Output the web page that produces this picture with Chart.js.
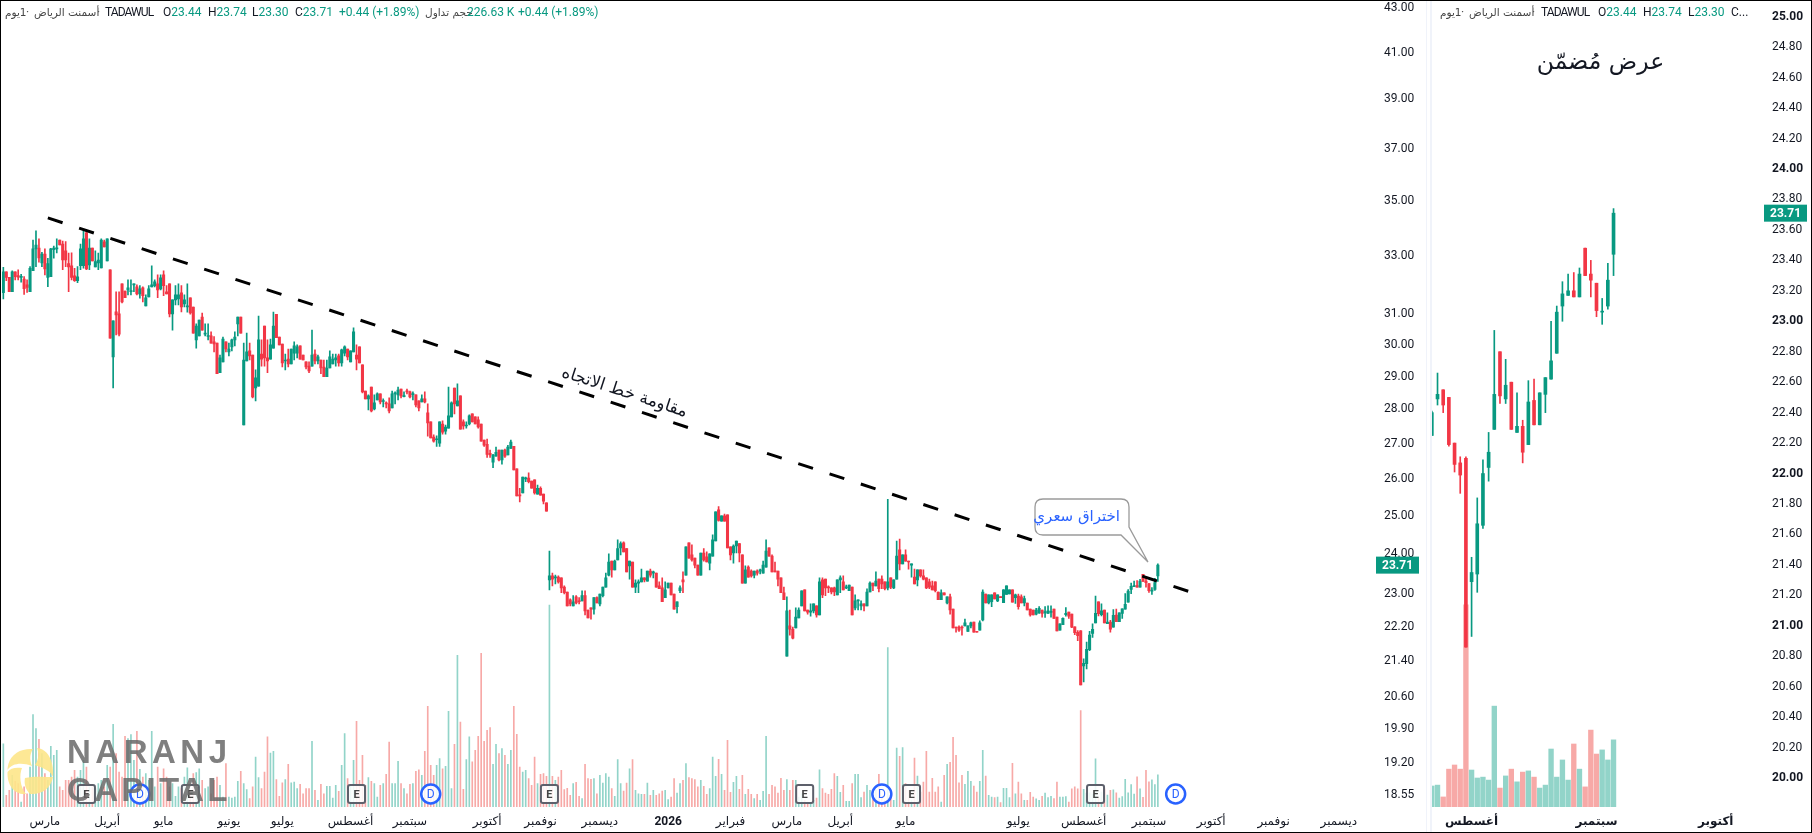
<!DOCTYPE html>
<html>
<head>
<meta charset="utf-8">
<script src="https://cdn.jsdelivr.net/npm/chart.js@4"></script>
<style>
  html, body { margin: 0; padding: 0; background: #fff; }
  body { width: 1812px; height: 833px; overflow: hidden; position: relative; font-family: Roboto, "DejaVu Sans", sans-serif; }
  canvas { position: absolute; top: 0; }
  .t { position: absolute; white-space: nowrap; color: #131722; font-size: 12px; line-height: 16px; top: 4px; }
  .g { color: #089981; }
  .ar { font-family: "DejaVu Sans", sans-serif; font-size: 10.5px; direction: rtl; color: #444; }
  .tk { letter-spacing: -0.9px; }
  #sep { position: absolute; left: 1426px; top: 0; width: 6px; height: 833px; background: #fff; border-left: 1px solid #f0f3fa; border-right: 2px solid #f0f3fa; box-sizing: border-box; }
  #frame { position: absolute; left: 0; top: 0; width: 1812px; height: 833px; box-sizing: border-box; border: 1.5px solid #000; pointer-events: none; }
  .wm { position: absolute; left: 67px; font: bold 33px "Liberation Sans", sans-serif; color: rgba(105,105,105,.85); line-height: 33px; }
</style>
</head>
<body>
<canvas id="mainChart" width="1426" height="833" style="left:0"></canvas>
<canvas id="sideChart" width="383" height="833" style="left:1429px"></canvas>
<div id="sep"></div>

<!-- header row, main pane -->
<span class="t ar" style="left:5px">1يوم</span>
<span class="t" style="left:26px;color:#555">·</span>
<span class="t ar" style="left:34px">أسمنت الرياض</span>
<span class="t" style="left:97px;color:#555">·</span>
<span class="t tk" style="left:105px">TADAWUL</span>
<span class="t" style="left:163px">O<span class="g">23.44</span></span>
<span class="t" style="left:208px">H<span class="g">23.74</span></span>
<span class="t" style="left:252px">L<span class="g">23.30</span></span>
<span class="t" style="left:295px">C<span class="g">23.71</span></span>
<span class="t g" style="left:339px">+0.44 (+1.89%)</span>
<span class="t ar" style="left:425px">حجم تداول</span>
<span class="t g" style="left:467px">226.63 K</span>
<span class="t g" style="left:518px">+0.44 (+1.89%)</span>

<!-- header row, side pane -->
<span class="t ar" style="left:1440px">1يوم</span>
<span class="t" style="left:1461px;color:#555">·</span>
<span class="t ar" style="left:1469px">أسمنت الرياض</span>
<span class="t" style="left:1532px;color:#555">·</span>
<span class="t tk" style="left:1541px">TADAWUL</span>
<span class="t" style="left:1598px">O<span class="g">23.44</span></span>
<span class="t" style="left:1643px">H<span class="g">23.74</span></span>
<span class="t" style="left:1688px">L<span class="g">23.30</span></span>
<span class="t" style="left:1731px">C...</span>

<span style="position:absolute;left:1530px;top:47px;width:141px;text-align:center;font:23.5px 'DejaVu Sans';direction:rtl;color:#131722;white-space:nowrap">عرض مُضمّن</span>
<span style="position:absolute;left:555px;top:381px;width:140px;text-align:center;font:17px 'DejaVu Sans';direction:rtl;color:#131722;white-space:nowrap;transform:rotate(18deg)">مقاومة خط الاتجاه</span>

<!-- callout -->
<svg style="position:absolute;left:0;top:0" width="1300" height="600">
  <path d="M1043 499 H1121 Q1129 499 1129 507 V527 L1148 562 L1121 535 H1043 Q1035 535 1035 527 V507 Q1035 499 1043 499 Z" fill="#fff" fill-opacity=".9" stroke="#9a9a9a" stroke-width="1.3"/>
</svg>
<span style="position:absolute;left:1035px;top:507px;width:85px;text-align:center;font:15px 'DejaVu Sans';direction:rtl;color:#2962ff;white-space:nowrap">اختراق سعري</span>

<!-- watermark -->
<svg style="position:absolute;left:0;top:735px" width="60" height="70" fill="#fde58a" fill-opacity=".9">
  <path d="M7.5 35 C8 20 20 13 33 14 C29 20 30 27 32 31 C22 27 12 28 7.5 35Z"/>
  <path d="M37 13 C48 14 54 26 53 42 C51 36 43 33 35 30 C39 24 39 18 37 13Z"/>
  <path d="M7.5 37 C10 33 16 32 22 33 C19 40 20 52 26 59 C14 60 7 50 7.5 37Z"/>
  <path d="M25 43 C33 41 45 42 53 42 C51 53 42 60 30 59 C25 54 24 48 25 43Z"/>
</svg>
<div class="wm" style="top:735px;letter-spacing:4.5px">NARANJ</div>
<div class="wm" style="top:773px;letter-spacing:3.3px">CAPITAL</div>
<div id="frame"></div>

<script>
const opens = [31.72,32.44,32.25,31.76,32.44,32.31,32.24,32.19,31.99,31.76,32.48,33.24,33.27,32.75,33.06,32.24,32.27,33.21,33.24,33.56,33.41,33.17,32.72,32.65,32.30,32.13,32.65,32.65,33.82,32.68,33.27,32.61,32.75,32.57,33.49,32.82,32.51,29.62,31.08,31.01,32.02,31.78,31.82,31.76,31.99,31.92,31.68,31.89,31.28,31.58,31.92,31.96,32.02,31.85,32.33,31.75,32.02,31.01,31.48,31.51,31.72,31.34,31.24,31.55,31.24,30.16,30.29,30.91,30.35,30.27,30.29,30.10,30.06,29.12,29.46,30.10,29.78,29.94,30.16,30.68,30.91,27.54,29.49,29.81,29.68,28.65,28.71,29.71,30.61,29.59,29.55,29.90,31.00,30.25,30.03,29.49,29.55,29.40,29.74,29.74,29.97,29.68,29.46,29.33,29.33,29.71,29.49,29.52,29.30,29.00,29.27,29.40,29.52,29.65,29.43,29.74,29.87,29.46,29.78,29.68,29.94,29.37,28.56,28.32,28.68,28.02,28.29,28.47,28.24,28.20,28.17,28.05,28.47,28.44,28.62,28.39,28.56,28.53,28.45,28.44,28.26,28.23,28.32,27.90,27.63,27.19,27.11,27.01,27.57,27.36,27.45,27.78,28.65,28.11,28.41,27.63,27.51,27.57,27.87,27.78,27.69,27.57,27.10,26.98,26.72,26.47,26.64,26.81,26.53,26.81,26.67,26.86,26.92,26.28,25.55,25.61,26.00,26.02,25.94,25.97,25.58,25.74,25.58,25.34,23.34,23.44,23.39,23.41,23.39,23.16,23.04,22.85,22.70,22.92,22.82,22.82,22.95,22.60,22.65,22.62,22.90,22.75,22.95,23.16,23.46,23.81,23.59,23.84,24.15,24.28,24.13,23.69,23.79,23.16,23.26,23.29,23.39,23.31,23.56,23.51,23.51,23.19,23.14,22.90,23.14,23.26,22.99,22.68,23.07,23.34,23.46,24.28,23.97,23.89,23.71,23.46,24.02,23.92,23.76,23.94,24.33,25.15,24.85,24.99,25.02,24.18,24.02,24.20,24.26,23.97,23.26,23.66,23.56,23.46,23.56,23.56,23.51,23.66,24.15,23.94,23.56,23.56,23.39,23.02,21.51,22.22,22.14,22.17,22.41,22.70,23.09,22.60,22.55,22.58,22.70,22.48,23.34,23.36,23.16,23.14,23.14,22.97,23.34,23.29,23.14,23.07,23.16,22.65,22.82,22.70,22.75,22.70,23.04,23.26,23.19,23.36,23.36,23.29,23.14,23.39,23.14,23.36,24.10,23.74,23.97,23.81,23.71,23.41,23.34,23.59,23.44,23.39,23.29,23.19,23.29,23.04,22.85,23.02,22.77,22.92,22.62,22.19,22.19,22.19,22.22,22.09,22.22,22.31,22.09,22.12,22.36,22.99,22.77,22.80,23.02,22.82,22.92,22.78,22.98,22.99,23.09,22.90,22.94,22.92,22.77,22.77,22.62,22.60,22.50,22.53,22.60,22.53,22.52,22.54,22.62,22.43,22.12,22.25,22.49,22.55,22.50,22.20,22.07,22.10,21.29,21.34,21.66,22.04,22.29,22.80,22.49,22.60,22.27,22.31,22.19,22.48,22.32,22.52,22.62,22.79,23.10,23.17,23.20,23.16,23.48,23.31,23.25,23.06,23.10,23.44];
const highs = [32.59,32.44,32.25,32.47,32.44,32.51,32.35,32.27,32.16,32.62,33.56,33.89,33.60,33.12,33.24,32.91,33.26,33.34,33.60,33.56,33.52,33.50,33.09,33.10,32.56,32.62,33.41,33.89,33.87,33.60,33.27,33.17,33.09,33.60,33.56,33.60,32.51,30.78,31.75,31.75,32.02,31.78,32.16,32.16,32.02,31.99,31.96,31.92,31.65,31.96,32.65,32.16,32.33,32.33,32.47,31.96,32.02,31.48,31.96,32.02,31.96,31.65,32.02,31.55,31.24,30.68,30.81,31.04,30.68,30.68,30.42,30.27,30.06,29.68,30.25,30.10,30.06,30.19,30.42,30.91,30.91,30.06,30.38,30.06,29.68,29.21,30.94,30.16,30.61,30.16,30.19,31.07,31.00,30.25,30.03,29.71,29.87,29.87,30.10,30.00,29.97,29.68,29.46,29.46,30.48,29.84,29.68,29.52,29.52,29.52,29.81,29.71,29.71,29.71,29.87,29.97,29.87,29.81,30.55,30.00,29.94,29.37,28.56,28.44,28.68,28.44,28.50,28.47,28.32,28.23,28.35,28.56,28.53,28.68,28.62,28.53,28.62,28.56,28.53,28.44,28.26,28.44,28.53,28.17,27.63,27.25,27.22,27.63,27.66,27.54,28.68,28.23,28.65,28.78,28.41,27.69,27.63,27.84,27.87,27.78,27.78,27.57,27.10,27.13,26.81,26.69,26.90,26.81,26.81,26.84,26.95,27.10,26.92,26.28,25.74,26.05,26.05,26.17,25.94,25.97,25.83,25.78,25.58,25.34,24.07,23.51,23.46,23.44,23.39,23.19,23.04,22.87,22.95,22.95,22.90,23.07,23.07,22.60,22.65,22.90,22.92,22.99,23.16,23.51,24.00,23.81,23.84,24.36,24.31,24.31,24.13,23.81,23.79,23.34,23.34,23.61,23.39,23.56,23.61,23.56,23.51,23.29,23.39,23.29,23.26,23.26,22.99,22.80,23.19,23.54,24.18,24.28,24.23,23.89,23.71,24.02,24.13,24.05,24.00,24.49,25.10,25.24,24.99,25.04,25.02,24.18,24.23,24.33,24.26,23.97,23.69,23.69,23.59,23.56,23.59,23.61,23.81,24.36,24.15,23.97,23.79,23.56,23.39,23.16,22.92,22.60,22.19,22.65,22.65,23.07,23.09,22.60,22.75,22.75,22.70,23.39,23.39,23.36,23.19,23.14,23.16,23.34,23.44,23.44,23.21,23.21,23.16,22.97,22.85,22.82,22.75,23.12,23.29,23.26,23.54,23.36,23.44,23.29,25.44,23.39,23.34,24.33,24.38,23.97,24.10,23.81,23.74,23.61,23.59,23.59,23.59,23.39,23.36,23.31,23.29,23.04,23.09,23.02,22.92,22.99,22.62,22.19,22.22,22.22,22.38,22.22,22.31,22.31,22.09,22.34,23.09,22.99,22.97,22.97,23.02,22.97,22.92,23.10,23.19,23.09,23.09,22.99,22.99,22.97,22.94,22.77,22.62,22.60,22.64,22.68,22.60,22.68,22.70,22.70,22.62,22.43,22.27,22.41,22.66,22.55,22.50,22.20,22.11,22.11,21.45,21.84,22.09,22.27,22.94,22.80,22.75,22.60,22.53,22.35,22.61,22.62,22.53,22.63,23.00,23.10,23.26,23.31,23.32,23.35,23.48,23.40,23.25,23.15,23.38,23.74];
const lows = [31.51,32.13,31.76,31.76,32.16,32.16,32.08,31.66,31.73,31.76,32.48,32.62,32.77,32.62,32.33,31.93,32.27,32.91,33.10,33.38,32.51,32.62,31.76,32.16,32.11,32.06,32.51,32.56,32.51,32.51,32.82,32.61,32.51,32.57,33.31,32.82,30.22,28.65,30.32,30.29,31.38,31.55,31.65,31.65,31.76,31.65,31.54,31.41,31.28,31.58,31.92,31.92,31.55,31.82,31.62,31.68,30.91,30.48,31.31,31.31,31.08,31.24,31.07,31.00,30.38,29.90,30.29,30.48,30.29,30.16,30.06,29.78,29.09,29.12,29.46,29.78,29.65,29.81,29.97,30.29,30.38,27.54,29.49,29.52,28.35,28.26,28.71,29.33,29.33,29.12,29.55,29.90,30.23,30.00,29.30,29.21,29.30,29.40,29.52,29.59,29.55,29.52,29.24,29.12,29.33,29.40,29.40,29.09,29.00,29.00,29.27,29.40,29.33,29.33,29.33,29.65,29.52,29.46,29.78,29.21,29.43,28.50,28.32,27.99,27.93,27.99,28.29,28.17,28.08,28.05,27.90,28.05,28.17,28.29,28.35,28.38,28.47,28.35,28.29,28.08,27.96,28.23,28.20,27.21,27.16,27.04,26.92,26.92,27.27,27.27,27.45,27.78,27.87,28.11,27.42,27.42,27.45,27.54,27.63,27.57,27.45,27.07,26.92,26.60,26.60,26.31,26.64,26.50,26.41,26.60,26.67,26.86,26.25,25.53,25.37,25.61,25.92,25.89,25.74,25.58,25.58,25.55,25.31,25.12,23.09,23.19,23.24,23.26,23.02,22.99,22.70,22.70,22.70,22.75,22.75,22.82,22.48,22.41,22.38,22.50,22.77,22.70,22.92,23.16,23.44,23.41,23.59,23.84,23.97,24.05,23.54,23.36,23.16,23.02,23.02,23.29,23.29,23.31,23.41,23.39,23.16,23.12,22.80,22.90,23.14,22.97,22.62,22.53,23.02,23.02,23.46,23.89,23.81,23.64,23.46,23.46,23.81,23.79,23.59,23.94,24.33,24.85,24.85,24.85,24.15,23.84,23.76,24.02,23.79,23.26,23.26,23.41,23.41,23.39,23.46,23.49,23.51,23.66,23.94,23.54,23.54,23.19,23.02,22.85,21.51,22.00,21.91,22.17,22.41,22.70,22.58,22.50,22.45,22.53,22.43,22.48,22.90,22.95,23.02,22.99,22.95,22.97,23.02,23.09,23.12,23.07,22.48,22.60,22.60,22.60,22.58,22.70,23.04,23.07,23.19,23.04,23.12,23.09,23.09,23.12,23.12,23.36,23.59,23.74,23.81,23.61,23.41,23.24,23.19,23.41,23.34,23.12,23.12,23.09,23.04,22.85,22.85,22.97,22.75,22.50,22.17,22.07,22.09,22.00,22.22,22.09,22.17,22.07,22.07,22.12,22.34,22.77,22.75,22.68,22.87,22.80,22.90,22.78,22.98,22.99,22.79,22.76,22.62,22.77,22.70,22.60,22.45,22.48,22.48,22.52,22.43,22.42,22.52,22.43,22.40,22.10,22.12,22.25,22.45,22.40,22.18,22.01,21.87,20.86,20.93,21.22,21.64,21.95,22.29,22.46,22.46,22.29,22.27,22.07,22.19,22.32,22.32,22.40,22.62,22.79,23.00,23.17,23.16,23.16,23.30,23.16,23.03,22.98,23.08,23.30];
const closes = [32.44,32.24,31.76,32.44,32.27,32.25,32.28,31.86,31.90,32.56,33.24,33.38,32.92,33.06,32.54,32.72,33.24,33.27,33.27,33.38,32.85,32.85,32.61,32.24,32.13,32.26,33.24,33.60,32.54,33.27,32.82,32.79,32.85,33.56,33.31,33.60,30.22,30.78,30.98,30.35,31.41,31.55,31.89,31.78,32.01,31.68,31.85,31.62,31.55,31.85,31.99,32.09,31.82,32.23,31.96,31.68,31.01,31.48,31.65,31.65,31.24,31.48,31.28,31.04,30.38,30.61,30.81,30.48,30.38,30.29,30.06,30.03,29.09,29.59,30.19,29.87,29.87,30.16,30.25,30.91,30.38,29.52,29.78,29.65,28.38,28.96,30.16,29.55,29.59,29.49,30.00,30.61,30.23,30.00,29.43,29.52,29.40,29.87,29.97,29.94,29.55,29.52,29.30,29.18,29.68,29.49,29.62,29.27,29.00,29.27,29.62,29.55,29.59,29.43,29.84,29.94,29.62,29.81,30.42,29.55,29.43,28.53,28.32,28.41,27.96,28.20,28.47,28.23,28.26,28.17,27.96,28.47,28.48,28.59,28.41,28.41,28.53,28.38,28.47,28.14,28.05,28.32,28.23,27.60,27.16,27.07,27.13,27.63,27.33,27.48,27.81,28.20,28.17,28.26,27.42,27.51,27.54,27.81,27.63,27.57,27.48,27.07,26.95,26.69,26.67,26.67,26.75,26.53,26.81,26.64,26.90,27.04,26.25,25.53,25.53,26.05,26.02,25.92,25.74,25.61,25.74,25.55,25.39,25.12,23.44,23.36,23.41,23.29,23.14,23.02,22.70,22.75,22.80,22.77,22.80,22.95,22.58,22.41,22.62,22.90,22.77,22.99,23.16,23.39,23.79,23.59,23.81,24.13,24.26,24.05,23.54,23.81,23.16,23.26,23.29,23.39,23.34,23.56,23.46,23.54,23.16,23.12,22.80,23.09,23.26,22.97,22.62,22.80,23.14,23.29,24.18,23.89,23.84,23.71,23.46,24.02,23.84,23.79,24.00,24.36,25.10,24.87,24.99,24.85,24.15,23.97,24.20,24.33,24.02,23.26,23.59,23.41,23.44,23.56,23.51,23.59,23.71,24.07,23.94,23.54,23.54,23.36,23.02,22.85,22.58,22.14,21.93,22.43,22.60,23.07,22.58,22.55,22.58,22.75,22.48,23.29,22.97,23.14,23.14,23.04,23.04,23.34,23.39,23.09,23.16,23.21,22.48,22.82,22.85,22.75,22.70,23.04,23.26,23.19,23.31,23.12,23.24,23.12,23.29,23.16,23.34,23.94,23.74,23.97,23.81,23.79,23.74,23.24,23.59,23.44,23.36,23.14,23.16,23.09,23.07,22.85,23.02,22.97,22.92,22.60,22.17,22.17,22.12,22.17,22.29,22.22,22.29,22.07,22.07,22.29,23.04,22.77,22.97,22.97,22.87,22.97,22.90,23.09,23.19,23.09,22.79,22.97,22.68,22.77,22.88,22.60,22.48,22.48,22.60,22.64,22.52,22.56,22.58,22.57,22.40,22.10,22.27,22.40,22.52,22.45,22.19,22.06,21.99,20.86,21.35,21.67,22.00,22.14,22.52,22.51,22.58,22.29,22.31,22.14,22.47,22.32,22.53,22.63,22.74,23.06,23.18,23.20,23.16,23.31,23.30,23.27,23.07,23.06,23.27,23.71];
// volume in thousands
const volumes = [448,83,118,224,182,165,35,142,94,283,654,555,479,378,236,189,430,366,401,142,118,189,189,212,260,212,260,330,283,142,142,130,165,189,142,295,283,585,378,248,212,500,484,512,330,536,267,212,236,189,536,142,283,165,271,212,142,165,76,142,130,212,278,118,236,243,271,189,130,142,94,189,212,153,71,307,71,64,71,182,253,165,123,59,142,354,208,130,248,496,382,394,194,76,172,194,302,172,177,130,160,94,130,130,465,118,47,160,94,146,146,64,153,111,295,519,201,153,330,607,189,366,153,208,182,165,71,153,165,231,460,165,165,323,165,130,94,160,165,253,264,224,394,713,295,224,295,342,271,288,677,130,444,1074,602,125,335,496,319,401,500,1088,465,543,562,302,444,378,413,366,302,401,713,514,283,248,260,201,153,354,165,231,236,217,1430,217,189,212,260,123,132,83,165,175,76,59,302,201,196,201,94,224,170,236,212,130,76,335,165,113,170,271,335,118,94,90,90,170,83,118,83,94,113,118,52,71,201,99,165,189,307,208,201,194,142,189,146,90,130,354,217,337,231,118,472,104,175,217,125,224,90,125,90,59,90,47,111,500,90,153,142,99,203,118,194,118,189,189,71,94,47,35,24,47,64,264,130,99,90,125,236,217,104,153,40,40,165,231,231,66,106,153,118,52,118,231,71,47,1128,71,47,418,359,420,165,118,47,347,219,106,177,394,106,203,106,142,35,224,302,316,493,366,172,224,160,253,182,149,106,182,401,219,83,71,66,71,31,132,132,66,309,94,177,94,47,47,104,71,57,47,76,99,66,76,59,177,71,71,74,34,128,142,128,683,125,98,101,91,341,64,105,128,85,118,122,101,64,74,196,101,159,91,213,128,68,260,179,193,159,227];

const priceTicks = [43,41,39,37,35,33,31,30,29,28,27,26,25,24,23,22.2,21.4,20.6,19.9,19.2,18.55];
const sideTicks = [25,24.8,24.6,24.4,24.2,24,23.8,23.6,23.4,23.2,23,22.8,22.6,22.4,22.2,22,21.8,21.6,21.4,21.2,21,20.8,20.6,20.4,20.2,20];
const monthNames = ['مارس','أبريل','مايو','يونيو','يوليو','أغسطس','سبتمبر','أكتوبر','نوفمبر','ديسمبر','2026','فبراير','مارس','أبريل','مايو','يوليو','أغسطس','سبتمبر','أكتوبر','نوفمبر','ديسمبر'];
const monthBars = [14,35,54,76,94,117,137,163,181,201,224,245,264,282,304,342,364,386,407,428,450];
const sideMonthNames = ['أغسطس','سبتمبر','أكتوبر'];
const sideMonthBars = [7,29,50];
const earningsBars = [28,63,119,184,270,306,368];
const dividendBars = [46,144,296,395];
const trendFrom = [15, 34.36];
const trendTo = [400, 23.04];
const lastClose = 23.71;

const UP = '#089981', DOWN = '#f23645', UP_VOL = '#92d4c9', DOWN_VOL = '#f7a9a7';
const FONT = 'Roboto, "DejaVu Sans", sans-serif';

function candleSets(o, h, l, c, v, widths) {
  const isUp = o.map((x, i) => c[i] >= x);
  return [
    { label: 'body', type: 'bar', data: o.map((x, i) => [x, c[i]]), backgroundColor: isUp.map(u => u ? UP : DOWN),
      barThickness: widths.body, minBarLength: 1, grouped: false, yAxisID: 'y', order: 2 },
    { label: 'wick', type: 'bar', data: l.map((x, i) => [x, h[i]]), backgroundColor: isUp.map(u => u ? UP : DOWN),
      barThickness: widths.wick, grouped: false, yAxisID: 'y', order: 3 },
    { label: 'volume', type: 'bar', data: v, backgroundColor: isUp.map(u => u ? UP_VOL : DOWN_VOL),
      barThickness: widths.vol, grouped: false, yAxisID: 'v', order: 4 }
  ];
}

function tag(ctx, x, y, w, h, text) {
  ctx.fillStyle = UP;
  ctx.fillRect(x, y - h / 2, w, h);
  ctx.fillStyle = '#fff';
  ctx.font = 'bold 12px ' + FONT;
  ctx.textAlign = 'center';
  ctx.textBaseline = 'middle';
  ctx.fillText(text, x + w / 2, y + 1);
}

// last price tag on the right axis
const priceTag = {
  id: 'priceTag',
  afterDraw(chart) {
    const a = chart.chartArea;
    tag(chart.ctx, a.right, chart.scales.y.getPixelForValue(lastClose), 43, 17, lastClose.toFixed(2));
  }
};

// E and D event marks along the bottom of the main pane
const eventMarks = {
  id: 'eventMarks',
  afterDraw(chart) {
    const ctx = chart.ctx, xs = chart.scales.x, yy = 794;
    ctx.save();
    ctx.textAlign = 'center';
    ctx.textBaseline = 'middle';
    earningsBars.forEach(i => {
      const x = xs.getPixelForValue(i);
      ctx.beginPath();
      ctx.roundRect(x - 8.5, yy - 9, 17, 18, 2);
      ctx.fillStyle = 'rgba(255,255,255,.85)';
      ctx.fill();
      ctx.lineWidth = 2;
      ctx.strokeStyle = '#5d606b';
      ctx.stroke();
      ctx.fillStyle = '#444';
      ctx.font = 'bold 11px ' + FONT;
      ctx.fillText('E', x, yy + 1);
    });
    dividendBars.forEach(i => {
      const x = xs.getPixelForValue(i);
      ctx.beginPath();
      ctx.arc(x, yy, 9.5, 0, Math.PI * 2);
      ctx.fillStyle = 'rgba(255,255,255,.85)';
      ctx.fill();
      ctx.lineWidth = 2.5;
      ctx.strokeStyle = '#2962ff';
      ctx.stroke();
      ctx.fillStyle = '#2962ff';
      ctx.font = '12px ' + FONT;
      ctx.fillText('D', x, yy + 1);
    });
    ctx.restore();
  }
};

function xAxis(names, bars, boldAll) {
  return {
    type: 'category',
    grid: { display: false },
    border: { display: false },
    afterFit: s => { s.height = 26; s.paddingLeft = 0; s.paddingRight = 0; },
    afterBuildTicks: s => { s.ticks = bars.map(b => ({ value: b })); },
    ticks: {
      autoSkip: false, maxRotation: 0, padding: 0,
      color: '#131722',
      font: c => ({ family: FONT, size: 12, weight: (boldAll || (c.tick && names[bars.indexOf(c.tick.value)] === '2026')) ? 'bold' : 'normal' }),
      callback: v => names[bars.indexOf(v)]
    }
  };
}

const N_MAIN = 463;
const trendline = new Array(N_MAIN).fill(null);
trendline[trendFrom[0]] = trendFrom[1];
trendline[trendTo[0]] = trendTo[1];

new Chart(document.getElementById('mainChart'), {
  data: {
    labels: Array.from({ length: N_MAIN }, (_, i) => String(i)),
    datasets: [
      { label: 'trend', type: 'line', data: trendline, spanGaps: true, borderColor: '#000', borderWidth: 3, borderDash: [15.5, 17.4], pointRadius: 0, yAxisID: 'y', order: 1 },
      ...candleSets(opens, highs, lows, closes, volumes, { body: 2.4, wick: 1, vol: 1 })
    ]
  },
  options: {
    responsive: false, animation: false, devicePixelRatio: 1,
    layout: { padding: { left: 1.85, top: 0, right: 0, bottom: 0 } },
    plugins: { legend: { display: false }, tooltip: { enabled: false } },
    scales: {
      x: xAxis(monthNames, monthBars, false),
      y: {
        type: 'logarithmic', position: 'right', min: 18.31, max: 43.37,
        grid: { display: false }, border: { display: false },
        afterFit: s => { s.width = 50; s.paddingTop = 0; s.paddingBottom = 0; },
        afterBuildTicks: s => { s.ticks = priceTicks.map(v => ({ value: v })); },
        ticks: { autoSkip: false, padding: 0, color: '#131722', font: { family: FONT, size: 12 }, callback: v => v.toFixed(2) }
      },
      v: { display: false, min: 0, max: 5714 }
    }
  },
  plugins: [eventMarks, priceTag]
});

const SIDE_BARS = 33, N_SIDE = 59;
new Chart(document.getElementById('sideChart'), {
  data: {
    labels: Array.from({ length: N_SIDE }, (_, i) => String(i)),
    datasets: candleSets(opens.slice(-SIDE_BARS), highs.slice(-SIDE_BARS), lows.slice(-SIDE_BARS), closes.slice(-SIDE_BARS), volumes.slice(-SIDE_BARS), { body: 3, wick: 1, vol: 4.7 })
  },
  options: {
    responsive: false, animation: false, devicePixelRatio: 1,
    layout: { padding: 0 },
    plugins: { legend: { display: false }, tooltip: { enabled: false } },
    scales: {
      x: xAxis(sideMonthNames, sideMonthBars, true),
      y: {
        type: 'linear', position: 'right', min: 19.81, max: 25.11,
        grid: { display: false }, border: { display: false },
        afterFit: s => { s.width = 48; s.paddingTop = 0; s.paddingBottom = 0; },
        afterBuildTicks: s => { s.ticks = sideTicks.map(v => ({ value: v })); },
        ticks: {
          autoSkip: false, padding: 0, color: '#131722',
          font: c => ({ family: FONT, size: 12, weight: (c.tick && Number.isInteger(c.tick.value)) ? 'bold' : 'normal' }),
          callback: v => v.toFixed(2)
        }
      },
      v: { display: false, min: 0, max: 2728 }
    }
  },
  plugins: [priceTag]
});
</script>
</body>
</html>
